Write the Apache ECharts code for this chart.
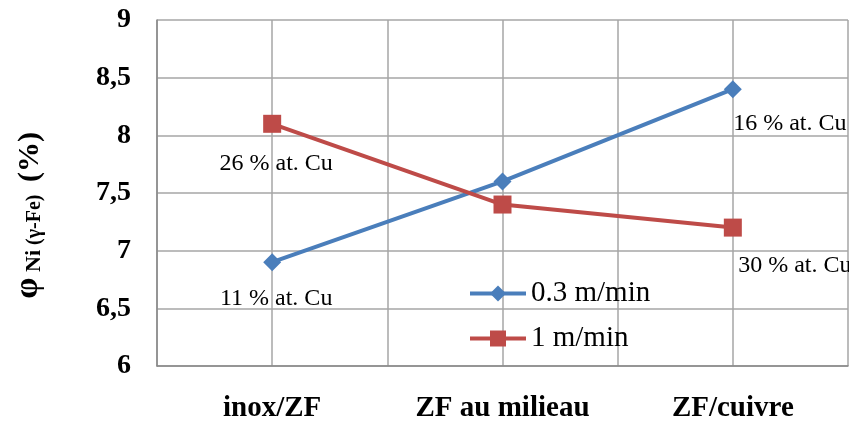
<!DOCTYPE html>
<html><head><meta charset="utf-8">
<script src="https://cdn.jsdelivr.net/npm/echarts@6/dist/echarts.min.js"></script>
<style>html,body{margin:0;padding:0;background:#fff}#c{width:849px;height:423px}</style>
</head><body><div id="c"></div>
<script>
const categories = ['inox/ZF', 'ZF au milieau', 'ZF/cuivre'];
const seriesNames = ['0.3 m/min', '1 m/min'];
const slowValues = [6.9, 7.6, 8.4];
const fastValues = [8.1, 7.4, 7.2];
const yTicks = ['6', '6,5', '7', '7,5', '8', '8,5', '9'];
const slowNotes = ['11 % at. Cu', '', '16 % at. Cu'];
const fastNotes = ['26 % at. Cu', '', '30 % at. Cu'];

const serif = '"Liberation Serif", "Times New Roman", serif';
const chart = echarts.init(document.getElementById('c'));
const slowShift = [[4, 16], [0, 0], [57, 14]];
const fastShift = [[4, 19], [0, 0], [62, 17]];
chart.setOption({
  animation: false,
  grid: { left: 157, right: 1, top: 20, bottom: 55 },
  legend: {
    orient: 'vertical', left: 463, top: 274, itemGap: 16,
    itemWidth: 56, itemHeight: 20,
    lineStyle: { width: 4 },
    textStyle: { fontFamily: serif, fontSize: 29, color: '#000' },
    data: seriesNames
  },
  graphic: [{
    type: 'text', left: 11, top: 132, rotation: Math.PI / 2,
    style: {
      text: '{phi|φ}{ni| Ni}{sub| (γ-Fe) }{pct| (%)}',
      rich: {
        phi: { fontFamily: serif, fontSize: 34, fill: '#000', fontWeight: 'bold', verticalAlign: 'bottom' },
        ni: { fontFamily: serif, fontSize: 22, fill: '#000', fontWeight: 'bold', verticalAlign: 'bottom' },
        sub: { fontFamily: serif, fontSize: 20, fill: '#000', fontWeight: 'bold', verticalAlign: 'bottom' },
        pct: { fontFamily: serif, fontSize: 30, fill: '#000', fontWeight: 'bold', verticalAlign: 'bottom' }
      }
    }
  }],
  xAxis: [{
    type: 'category', data: categories, boundaryGap: true,
    axisLine: { lineStyle: { color: '#888', width: 1.5 } },
    axisTick: { show: false },
    splitLine: { show: false },
    axisLabel: { fontFamily: serif, fontWeight: 'bold', fontSize: 29, color: '#000', margin: 28 }
  }, {
    type: 'value', min: 0, max: 3, interval: 0.5, position: 'bottom',
    axisLine: { show: false }, axisTick: { show: false }, axisLabel: { show: false },
    splitLine: { show: true, lineStyle: { color: '#a6a6a6', width: 1.5 } }
  }],
  yAxis: {
    type: 'value', min: 6, max: 9, interval: 0.5,
    axisLine: { show: true, lineStyle: { color: '#888', width: 1.5 } },
    axisTick: { show: false },
    splitLine: { lineStyle: { color: '#a6a6a6', width: 1.5 } },
    axisLabel: {
      fontFamily: serif, fontWeight: 'bold', fontSize: 28, color: '#000', margin: 26,
      formatter: v => yTicks[Math.round((v - 6) / 0.5)]
    }
  },
  series: [{
    name: seriesNames[0], type: 'line', data: slowValues,
    symbol: 'diamond', symbolSize: 18,
    lineStyle: { color: '#4a7ebb', width: 4 },
    itemStyle: { color: '#4a7ebb' },
    label: {
      show: true, formatter: p => slowNotes[p.dataIndex],
      color: '#000', fontFamily: serif, fontSize: 24, position: 'bottom', distance: 0
    },
    labelLayout: p => ({ dx: slowShift[p.dataIndex][0], dy: slowShift[p.dataIndex][1] })
  }, {
    name: seriesNames[1], type: 'line', data: fastValues,
    symbol: 'rect', symbolSize: 18,
    lineStyle: { color: '#be4b48', width: 4 },
    itemStyle: { color: '#be4b48' },
    label: {
      show: true, formatter: p => fastNotes[p.dataIndex],
      color: '#000', fontFamily: serif, fontSize: 24, position: 'bottom', distance: 0
    },
    labelLayout: p => ({ dx: fastShift[p.dataIndex][0], dy: fastShift[p.dataIndex][1] })
  }]
});
</script></body></html>
